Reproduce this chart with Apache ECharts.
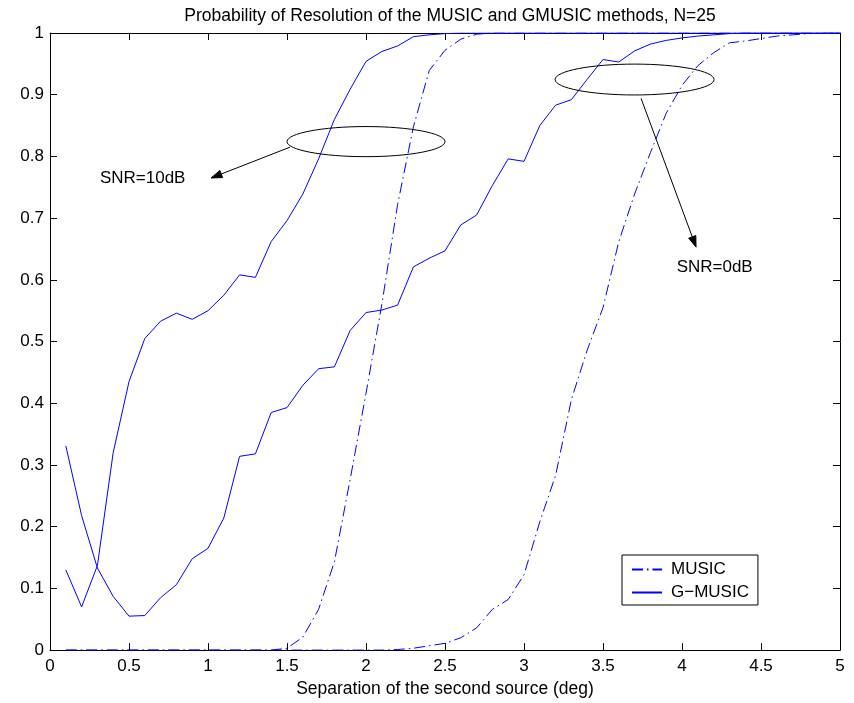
<!DOCTYPE html>
<html>
<head>
<meta charset="utf-8">
<script src="https://cdn.jsdelivr.net/npm/echarts@6/dist/echarts.min.js"></script>
<style>
  html, body { margin: 0; padding: 0; background: #fff; }
  #chart { width: 854px; height: 703px; }
</style>
</head>
<body>
<div id="chart"></div>
<script>
// Source separation in degrees
const separation = [
  0.1, 0.2, 0.3, 0.4, 0.5, 0.6, 0.7, 0.8, 0.9, 1.0,
  1.1, 1.2, 1.3, 1.4, 1.5, 1.6, 1.7, 1.8, 1.9, 2.0,
  2.1, 2.2, 2.3, 2.4, 2.5, 2.6, 2.7, 2.8, 2.9, 3.0,
  3.1, 3.2, 3.3, 3.4, 3.5, 3.6, 3.7, 3.8, 3.9, 4.0,
  4.1, 4.2, 4.3, 4.4, 4.5, 4.6, 4.7, 4.8, 4.9, 5.0
];

// Probability of resolution, MUSIC, SNR = 10 dB
const musicSnr10 = [
  0, 0, 0, 0, 0, 0, 0, 0, 0, 0,
  0, 0, 0, 0, 0.003, 0.021, 0.066, 0.143, 0.277, 0.416,
  0.560, 0.722, 0.848, 0.939, 0.972, 0.990, 0.998, 1, 1, 1,
  1, 1, 1, 1, 1, 1, 1, 1, 1, 1,
  1, 1, 1, 1, 1, 1, 1, 1, 1, 1
];

// Probability of resolution, MUSIC, SNR = 0 dB
const musicSnr0 = [
  0, 0, 0, 0, 0, 0, 0, 0, 0, 0,
  0, 0, 0, 0, 0, 0, 0, 0, 0, 0,
  0, 0.001, 0.003, 0.007, 0.011, 0.020, 0.036, 0.066, 0.082, 0.122,
  0.208, 0.283, 0.406, 0.486, 0.555, 0.662, 0.739, 0.806, 0.870, 0.915,
  0.947, 0.968, 0.984, 0.987, 0.991, 0.995, 0.997, 0.999, 1, 1
];

// Probability of resolution, G-MUSIC, SNR = 10 dB
const gmusicSnr10 = [
  0.130, 0.070, 0.137, 0.320, 0.435, 0.505, 0.533, 0.546, 0.536, 0.550,
  0.575, 0.608, 0.604, 0.662, 0.696, 0.739, 0.796, 0.860, 0.909, 0.954,
  0.970, 0.979, 0.994, 0.997, 0.999, 1, 1, 1, 1, 1,
  1, 1, 1, 1, 1, 1, 1, 1, 1, 1,
  1, 1, 1, 1, 1, 1, 1, 1, 1, 1
];

// Probability of resolution, G-MUSIC, SNR = 0 dB
const gmusicSnr0 = [
  0.331, 0.218, 0.133, 0.087, 0.055, 0.056, 0.085, 0.106, 0.148, 0.165,
  0.214, 0.314, 0.318, 0.385, 0.393, 0.429, 0.456, 0.459, 0.518, 0.547,
  0.551, 0.559, 0.621, 0.635, 0.647, 0.689, 0.705, 0.753, 0.796, 0.792,
  0.850, 0.883, 0.892, 0.925, 0.957, 0.953, 0.971, 0.982, 0.988, 0.992,
  0.995, 0.997, 0.999, 1, 1, 1, 1, 1, 1, 1
];

const legendNames = ['MUSIC', 'G\u2212MUSIC'];
const titleText = 'Probability of Resolution of the MUSIC and GMUSIC methods, N=25';
const xAxisTitle = 'Separation of the second source (deg)';

// Callouts grouping the curves of each SNR (data coordinates)
const callouts = [
  { label: 'SNR=10dB', ellipse: [2.0, 0.824, 0.5, 0.0244],
    arrow: [[1.519, 0.815], [1.019, 0.765]], textAt: [0.316, 0.764] },
  { label: 'SNR=0dB', ellipse: [3.70, 0.9246, 0.503, 0.025],
    arrow: [[3.741, 0.894], [4.089, 0.653]], textAt: [3.966, 0.62] }
];

const FONT = "'Liberation Sans', Arial, Helvetica, sans-serif";
const BLUE = '#0000ff';
const DASH_DOT = [11, 4, 1.5, 4];

function pairs(values) {
  return separation.map((x, i) => [x, values[i]]);
}

function lineSeries(name, values, dashed) {
  return {
    type: 'line',
    name: name,
    xAxisIndex: 0,
    yAxisIndex: 0,
    data: pairs(values),
    symbol: 'none',
    showSymbol: false,
    animation: false,
    lineStyle: { color: BLUE, width: 1, type: dashed ? DASH_DOT : 'solid' },
    itemStyle: { color: BLUE },
    emphasis: { disabled: true },
    z: 3
  };
}

const axisCommon = {
  type: 'value',
  axisLine: { show: true, onZero: false, lineStyle: { color: '#000', width: 1 } },
  axisTick: { show: true, inside: true, length: 7, lineStyle: { color: '#000', width: 1 } },
  splitLine: { show: false }
};

const chart = echarts.init(document.getElementById('chart'), null, { renderer: 'canvas' });

const option = {
  backgroundColor: '#fff',
  animation: false,
  textStyle: { fontFamily: FONT },
  title: {
    text: titleText,
    left: 445,
    textAlign: 'center',
    top: 2,
    textStyle: { fontFamily: FONT, fontSize: 17.5, fontWeight: 'normal', color: '#000' }
  },
  grid: { left: 50, right: 14, top: 33, bottom: 47, containLabel: false },
  xAxis: [
    Object.assign({}, axisCommon, {
      position: 'bottom', min: 0, max: 5, interval: 0.5,
      name: xAxisTitle, nameLocation: 'middle', nameGap: 26,
      nameTextStyle: { fontFamily: FONT, fontSize: 17.5, color: '#000' },
      axisLabel: { show: true, margin: 8, fontFamily: FONT, fontSize: 17, color: '#000' }
    }),
    Object.assign({}, axisCommon, {
      position: 'top', min: 0, max: 5, interval: 0.5,
      axisLabel: { show: false }
    })
  ],
  yAxis: [
    Object.assign({}, axisCommon, {
      position: 'left', min: 0, max: 1, interval: 0.1,
      axisLabel: { show: true, margin: 6, fontFamily: FONT, fontSize: 17, color: '#000' }
    }),
    Object.assign({}, axisCommon, {
      position: 'right', min: 0, max: 1, interval: 0.1,
      axisLabel: { show: false }
    })
  ],
  legend: {
    data: legendNames,
    orient: 'vertical',
    left: 622,
    top: 555,
    backgroundColor: '#fff',
    borderColor: '#000',
    borderWidth: 1,
    borderRadius: 0,
    padding: [6, 9, 4, 9],
    itemWidth: 30,
    itemHeight: 14,
    itemGap: 6,
    selectedMode: false,
    itemStyle: { opacity: 0, color: 'rgba(0,0,0,0)', borderWidth: 0 },
    textStyle: { fontFamily: FONT, fontSize: 17, color: '#000', padding: [0, 0, 0, 4] }
  },
  series: [
    lineSeries(legendNames[0], musicSnr10, true),
    lineSeries(legendNames[1], gmusicSnr10, false),
    lineSeries(legendNames[0], musicSnr0, true),
    lineSeries(legendNames[1], gmusicSnr0, false)
  ]
};

chart.setOption(option);

// Draw callout ellipses, arrows and labels from data coordinates
function toPx(p) {
  return chart.convertToPixel({ xAxisIndex: 0, yAxisIndex: 0 }, p);
}

const elements = [];
callouts.forEach(c => {
  const [ex, ey, erx, ery] = c.ellipse;
  const center = toPx([ex, ey]);
  const edgeX = toPx([ex + erx, ey]);
  const edgeY = toPx([ex, ey + ery]);
  elements.push({
    type: 'ellipse',
    shape: { cx: center[0], cy: center[1], rx: Math.abs(edgeX[0] - center[0]), ry: Math.abs(center[1] - edgeY[1]) },
    style: { fill: 'none', stroke: '#000', lineWidth: 1 },
    z: 10
  });
  const a = toPx(c.arrow[0]);
  const b = toPx(c.arrow[1]);
  const dx = b[0] - a[0], dy = b[1] - a[1];
  const len = Math.sqrt(dx * dx + dy * dy);
  const ux = dx / len, uy = dy / len;
  const headLen = 11, headHalf = 3.8;
  const base = [b[0] - ux * headLen, b[1] - uy * headLen];
  elements.push({
    type: 'line',
    shape: { x1: a[0], y1: a[1], x2: base[0], y2: base[1] },
    style: { stroke: '#000', lineWidth: 1 },
    z: 10
  });
  elements.push({
    type: 'polygon',
    shape: { points: [
      [b[0], b[1]],
      [base[0] - uy * headHalf, base[1] + ux * headHalf],
      [base[0] + uy * headHalf, base[1] - ux * headHalf]
    ] },
    style: { fill: '#000', stroke: '#000', lineWidth: 1 },
    z: 10
  });
  const t = toPx(c.textAt);
  elements.push({
    type: 'text',
    x: t[0],
    y: t[1],
    style: { text: c.label, fontFamily: FONT, fontSize: 17, fill: '#000', align: 'left', verticalAlign: 'middle' },
    z: 10
  });
});

chart.setOption({ graphic: elements });
</script>
</body>
</html>
